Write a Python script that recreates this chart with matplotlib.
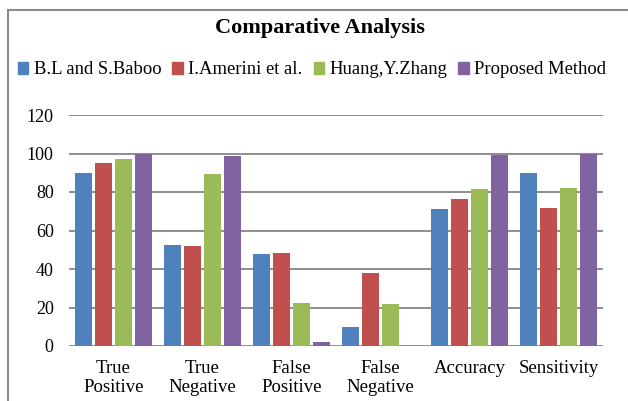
import matplotlib
matplotlib.use("Agg")
import matplotlib.pyplot as plt
import numpy as np
from matplotlib.lines import Line2D

categories = ["True\nPositive", "True\nNegative", "False\nPositive", "False\nNegative", "Accuracy", "Sensitivity"]
series_names = ["B.L and S.Baboo", "I.Amerini et al.", "Huang,Y.Zhang", "Proposed Method"]
bl_baboo = [90, 52.3, 47.7, 10, 71.3, 90]
amerini = [95, 51.8, 48.3, 37.7, 76.2, 71.9]
huang = [97.2, 89.1, 22.1, 21.9, 81.7, 82]
proposed = [100, 98.6, 1.9, 0, 99.3, 100]
yticks = [0, 20, 40, 60, 80, 100, 120]

colors = ["#4F81BD", "#C0504D", "#9BBB59", "#8064A2"]
plt.rcParams['font.family'] = ['Liberation Serif', 'DejaVu Serif']

fig = plt.figure(figsize=(6.28, 4.01), dpi=100)
ax = fig.add_axes([69/628, 1-346/401, 534/628, 231/401])

x = np.arange(len(categories))
pitch = 0.2247
width = 0.19
for i, (vals, name, c) in enumerate(zip([bl_baboo, amerini, huang, proposed], series_names, colors)):
    ax.bar(x + (i - 1.5) * pitch, vals, width=width, color=c, label=name, zorder=3)

ax.set_xlim(-0.5, len(categories) - 0.5)
ax.set_ylim(0, 120)
ax.set_yticks(yticks)
ax.set_xticks(x)
ax.set_xticklabels(categories, fontsize=13.5, linespacing=1.15)
ax.tick_params(axis='y', length=0, pad=11, labelsize=13)
ax.tick_params(axis='x', length=0, pad=10)
for s in ax.spines.values():
    s.set_visible(False)
ax.yaxis.grid(True, color='#868686', linewidth=1.3, zorder=0)
ax.set_axisbelow(True)

fig.text(320/628, 1-28/401, "Comparative Analysis", ha='center', va='center', fontsize=16, fontweight='bold')

handles = [plt.Rectangle((0, 0), 1, 1, color=c) for c in colors]
fig.legend(handles, series_names, loc='center', bbox_to_anchor=(312/628, 1-70/401), ncol=4,
           frameon=False, fontsize=13.4, handlelength=0.55, handleheight=0.55, handletextpad=0.3,
           columnspacing=0.6, borderpad=0, borderaxespad=0)

# outer frame (left and top visible)
fig.add_artist(Line2D([8/628, 8/628], [0, 1-10/401], transform=fig.transFigure, color='#8C8C8C', lw=1.5))
fig.add_artist(Line2D([8/628, 1], [1-10/401, 1-10/401], transform=fig.transFigure, color='#8C8C8C', lw=1.5))

fig.savefig("out.png", dpi=100)
